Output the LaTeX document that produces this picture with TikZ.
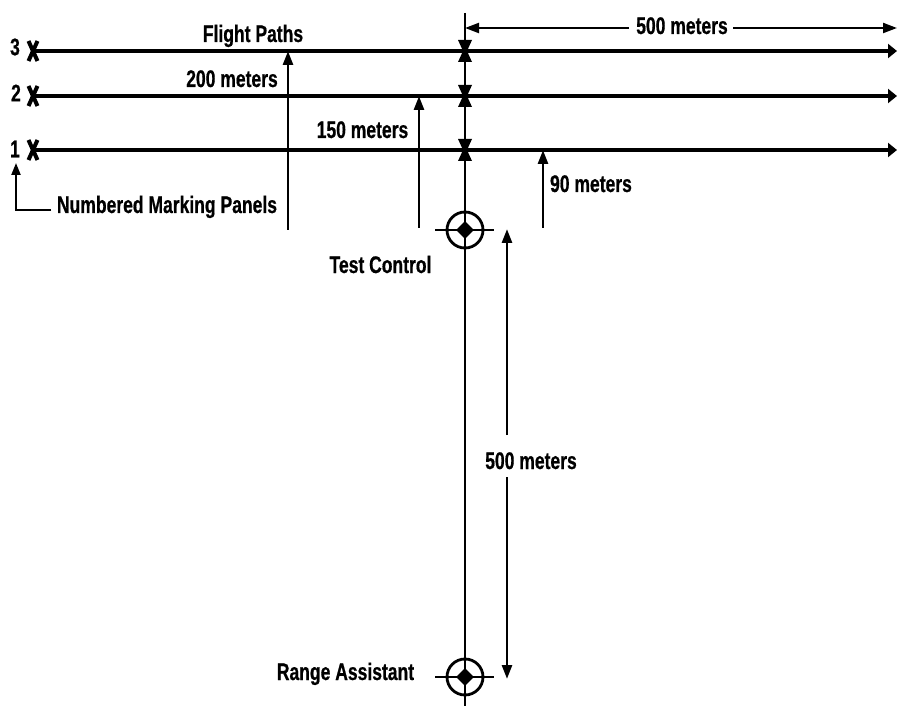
\documentclass[tikz,border=0pt]{standalone}
\usepackage{fontspec}
\newfontfamily\lblfont{Liberation Sans}[FakeStretch=0.73, FakeBold=0.6]
\usetikzlibrary{arrows.meta,shapes.geometric}
\tikzset{
  lbl/.style={font=\lblfont\bfseries\fontsize{24}{28}\selectfont, inner sep=0pt, anchor=base},
  numlbl/.style={font=\lblfont\bfseries\fontsize{24}{28}\selectfont, inner sep=0pt, anchor=center},
  flightline/.style={line width=4pt, -{Triangle[length=9pt,width=14pt]}},
  dimarrow/.style={line width=2.8pt, -{Triangle[length=14pt,width=10pt]}},
  dimthin/.style={line width=2.2pt, -{Triangle[length=14pt,width=10pt]}},
  axisline/.style={line width=2.8pt},
  targetring/.style={circle, draw, line width=2.8pt, minimum size=36pt, inner sep=0pt},
  targetcore/.style={diamond, fill, minimum width=18pt, minimum height=18pt, inner sep=0pt},
}
\begin{document}
\begin{tikzpicture}[x=1pt,y=-1pt]
\useasboundingbox (0,0) rectangle (898,706);
\fill[white] (0,0) rectangle (898,706);

% main vertical axis
\coordinate (vtop) at (465,13);
\coordinate (vbot) at (465,706);
\draw[axisline] (vtop) -- (vbot);

% flight paths
\coordinate (p3s) at (33,51);  \coordinate (p3e) at (897,51);
\coordinate (p2s) at (33,96);  \coordinate (p2e) at (897,96);
\coordinate (p1s) at (33,150); \coordinate (p1e) at (897,150);
\draw[flightline] (p3s) -- (p3e);
\draw[flightline] (p2s) -- (p2e);
\draw[flightline] (p1s) -- (p1e);

% marks
\foreach \yy in {51,96,150} {
  \draw[line width=4pt] (28.5,\yy-10) -- (37.5,\yy+10);
  \draw[line width=4pt] (37.5,\yy-10) -- (28.5,\yy+10);
  \fill (458,\yy-11) -- (472,\yy-11) -- (467,\yy) -- (472,\yy+11) -- (458,\yy+11) -- (463,\yy) -- cycle;
}

% number labels
\node[numlbl] (n3) at (15,47) {3};
\node[numlbl] (n2) at (16,93) {2};
\node[numlbl] (n1) at (15,149) {1};

% numbered marking panels
\node[lbl] (nmp) at (167,213) {Numbered Marking Panels};
\coordinate (nmpa) at (51,210);
\coordinate (nmptip) at (16,163);
\draw[line width=2.2pt, -{Triangle[length=12pt,width=9pt]}] (nmpa) -| (nmptip);

% flight paths label and 200 m
\node[lbl] (fp) at (253,42) {Flight Paths};
\node[lbl] (m200) at (232,87) {200 meters};
\coordinate (a200b) at (288,230);
\coordinate (a200t) at (288,51);
\draw[dimarrow] (a200b) -- (a200t);

% 150 m
\node[lbl] (m150) at (362.5,138) {150 meters};
\coordinate (a150b) at (419,228);
\coordinate (a150t) at (419,96);
\draw[dimarrow] (a150b) -- (a150t);

% 90 m
\node[lbl] (m90) at (591,192) {90 meters};
\coordinate (a90b) at (543,228);
\coordinate (a90t) at (543,150);
\draw[dimarrow] (a90b) -- (a90t);

% top 500 m
\node[lbl] (m500t) at (682,34) {500 meters};
\coordinate (t1) at (629,28); \coordinate (t1tip) at (465,28);
\coordinate (t2) at (733,28); \coordinate (t2tip) at (897,28);
\draw[dimthin] (t1) -- (t1tip);
\draw[dimthin] (t2) -- (t2tip);

% test control
\node[targetring] (tc) at (465,230) {};
\node[targetcore] (tcc) at (tc.center) {};
\coordinate (tcl) at (435,230); \coordinate (tcr) at (494,230);
\draw[axisline] (tcl) -- (tcr);
\node[lbl] (tcl2) at (380.5,273) {Test Control};

% range assistant
\node[targetring] (ra) at (465,677) {};
\node[targetcore] (rac) at (ra.center) {};
\coordinate (ral) at (435,677); \coordinate (rar) at (494,677);
\draw[axisline] (ral) -- (rar);
\node[lbl] (ralbl) at (345.5,680) {Range Assistant};

% vertical 500 m
\node[lbl] (m500v) at (531,469) {500 meters};
\coordinate (v1) at (507,435); \coordinate (v1tip) at (507,229);
\coordinate (v2) at (507,477); \coordinate (v2tip) at (507,679);
\draw[dimarrow] (v1) -- (v1tip);
\draw[dimarrow] (v2) -- (v2tip);
\end{tikzpicture}
\end{document}
